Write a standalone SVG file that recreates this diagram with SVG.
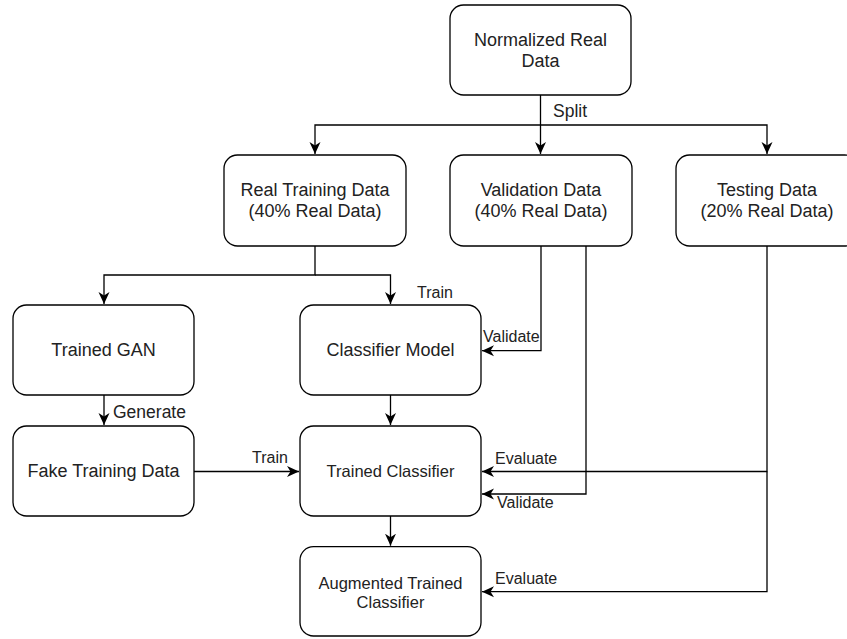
<svg xmlns="http://www.w3.org/2000/svg" width="847" height="639" viewBox="0 0 847 639">
<style>
.node rect{fill:#fff;stroke:#000;stroke-width:1.3}
.node text{font-family:"Liberation Sans",Arial,sans-serif;fill:#222;text-anchor:middle}
.big{font-size:18px}
.mid{font-size:16.5px}
.conn path{fill:none;stroke:#000;stroke-width:1.3}
.lbl{font-family:"Liberation Sans",Arial,sans-serif;font-size:16px;fill:#222}
.lbl2{font-size:17.5px}
</style>
<defs>
<marker id="ah" markerUnits="userSpaceOnUse" markerWidth="13" markerHeight="13" viewBox="0 0 13 13" refX="12" refY="6.5" orient="auto">
<path d="M0,1 L12,6.5 L0,12 L3.5,6.5 Z" fill="#000"/>
</marker>
</defs>
<rect width="847" height="639" fill="#fff"/>
<g class="conn">
<path d="M540.5,95 V154" marker-end="url(#ah)"/>
<path d="M540.5,125 H315 V154" marker-end="url(#ah)"/>
<path d="M540.5,125 H767 V154" marker-end="url(#ah)"/>
<path d="M315,246 V275 H104 V304" marker-end="url(#ah)"/>
<path d="M315,275 H390.5 V304" marker-end="url(#ah)"/>
<path d="M541,246 V350.7 H482" marker-end="url(#ah)"/>
<path d="M586,246 V494 H482" marker-end="url(#ah)"/>
<path d="M767,246 V471.5 H482" marker-end="url(#ah)"/>
<path d="M767,471.5 V591.7 H482" marker-end="url(#ah)"/>
<path d="M104,395 V425" marker-end="url(#ah)"/>
<path d="M194,471.5 H299" marker-end="url(#ah)"/>
<path d="M390.5,395 V425" marker-end="url(#ah)"/>
<path d="M390.5,516 V545.7" marker-end="url(#ah)"/>
<text class="lbl lbl2" x="553" y="117">Split</text>
<text class="lbl" x="417" y="297.6">Train</text>
<text class="lbl" x="483" y="341.5">Validate</text>
<text class="lbl lbl2" x="113" y="418">Generate</text>
<text class="lbl" x="252" y="462.6">Train</text>
<text class="lbl" x="495" y="463.6">Evaluate</text>
<text class="lbl" x="497" y="508.3">Validate</text>
<text class="lbl" x="495" y="583.6">Evaluate</text>
</g>
<g id="normalized" class="node">
<rect x="450" y="5" width="181" height="90" rx="13.5"/>
<text class="big" x="540.5" y="45.8">Normalized Real</text>
<text class="big" x="540.5" y="66.8">Data</text>
</g>
<g id="realtraining" class="node">
<rect x="224" y="155" width="182" height="91" rx="13.5"/>
<text class="big" x="315" y="196.3">Real Training Data</text>
<text class="big" x="315" y="217.3">(40% Real Data)</text>
</g>
<g id="validation" class="node">
<rect x="450" y="155" width="182" height="91" rx="13.5"/>
<text class="big" x="541" y="196.3">Validation Data</text>
<text class="big" x="541" y="217.3">(40% Real Data)</text>
</g>
<g id="testing" class="node">
<rect x="676" y="155" width="182" height="91" rx="13.5"/>
<text class="big" x="767" y="196.3">Testing Data</text>
<text class="big" x="767" y="217.3">(20% Real Data)</text>
</g>
<g id="gan" class="node">
<rect x="13" y="305" width="181" height="90" rx="13.5"/>
<text class="big" x="103.5" y="356.3">Trained GAN</text>
</g>
<g id="classifier" class="node">
<rect x="300" y="305" width="181" height="90" rx="13.5"/>
<text class="big" x="390.5" y="356.3">Classifier Model</text>
</g>
<g id="fake" class="node">
<rect x="13" y="426" width="181" height="90" rx="13.5"/>
<text class="big" x="103.5" y="477.3">Fake Training Data</text>
</g>
<g id="trained" class="node">
<rect x="300" y="426" width="181" height="90" rx="13.5"/>
<text class="mid" x="390.5" y="476.8">Trained Classifier</text>
</g>
<g id="augmented" class="node">
<rect x="300" y="546.7" width="181" height="89.3" rx="13.5"/>
<text class="mid" x="390.5" y="588.5">Augmented Trained</text>
<text class="mid" x="390.5" y="607.5">Classifier</text>
</g>
</svg>
